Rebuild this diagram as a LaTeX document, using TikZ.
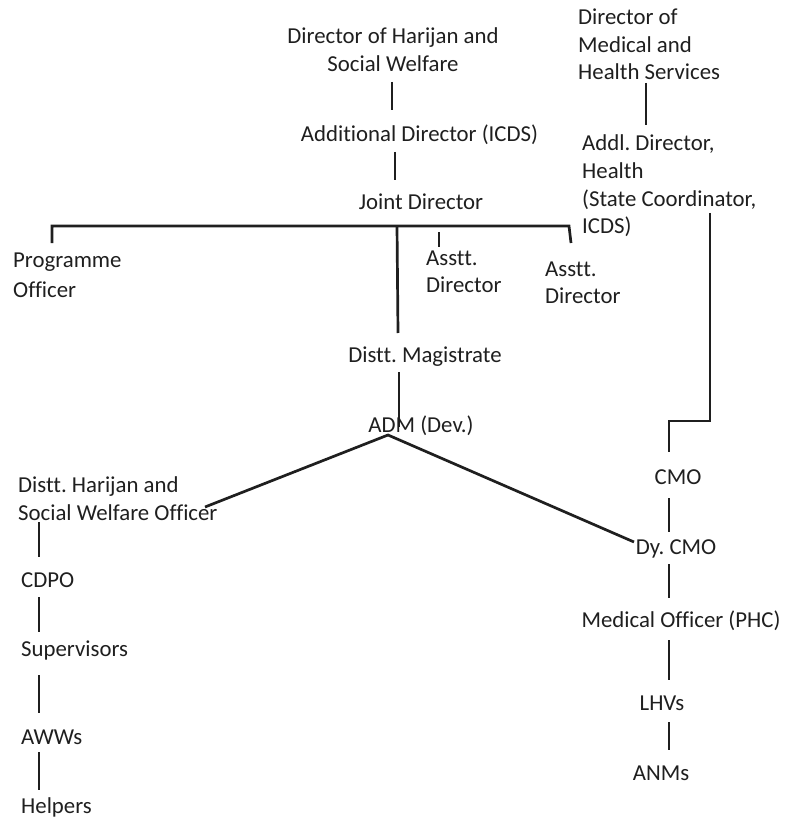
\documentclass[tikz,border=0pt]{standalone}
\usepackage{fontspec}
\setmainfont[Ligatures=NoCommon]{Carlito}
\frenchspacing
\begin{document}
\begin{tikzpicture}[x=1pt,y=-1pt,
  lbl/.style={inner sep=0pt,font=\fontsize{22.8}{27.5}\selectfont\frenchspacing,text=black!88},
  lc/.style={lbl,anchor=base,align=center},
  ll/.style={lbl,anchor=base west,align=left},
  conn/.style={line width=2.7pt,draw=black!88}]
\useasboundingbox (0,0) rectangle (792,818);
% left / centre column (multi-line nodes are placed at the baseline of their last line)
\node[lc,font=\fontsize{22.8}{28}\selectfont\frenchspacing] (hw) at (393,72) {Director of Harijan and\\Social Welfare};
\node[lc] (ad) at (419.5,142) {Additional Director (ICDS)};
\node[lc] (jd) at (421,210) {Joint Director};
\node[ll,font=\fontsize{22.8}{30}\selectfont\frenchspacing] (po) at (13,297) {Programme\\Officer};
\node[ll,font=\fontsize{22.8}{27}\selectfont\frenchspacing] (as1) at (426,292) {Asstt.\\Director};
\node[ll,font=\fontsize{22.8}{27}\selectfont\frenchspacing] (as2) at (545,303) {Asstt.\\Director};
\node[lc] (dm) at (425,362) {Distt. Magistrate};
\node[lc] (adm) at (421,432) {ADM (Dev.)};
\node[ll,font=\fontsize{22.8}{28}\selectfont\frenchspacing] (dh) at (18,520) {Distt. Harijan and\\Social Welfare Officer};
\node[ll] (cdpo) at (21,587) {CDPO};
\node[ll] (sup) at (21,656) {Supervisors};
\node[ll] (aww) at (21,744) {AWWs};
\node[ll] (help) at (21,813) {Helpers};
% right column
\node[ll] (dmh) at (578,80) {Director of\\Medical and\\Health Services};
\node[ll] (adh) at (582,233.5) {Addl. Director,\\Health\\(State Coordinator,\\ICDS)};
\node[lc] (cmo) at (678,484) {CMO};
\node[lc] (dcmo) at (676,554) {Dy. CMO};
\node[lc] (mo) at (681,627) {Medical Officer (PHC)};
\node[lc] (lhv) at (662,710) {LHVs};
\node[lc] (anm) at (661,780) {ANMs};
% connectors
\draw[conn] ([shift={(-1,10)}]hw.base) -- ([shift={(-27.5,-32)}]ad.base);
\draw[conn] ([shift={(-24.5,10)}]ad.base) -- ([shift={(-26,-30)}]jd.base);
\draw[conn] ([shift={(39,-54)}]po.base west) -- ++(0,-17) -- ++(517,0) -- ([shift={(26,-60)}]as2.base west);
\draw[conn] ([shift={(-24,16)}]jd.base) -- ([shift={(-27,-29)}]dm.base);
\draw[conn] ([shift={(13,-60)}]as1.base west) -- ([shift={(13,-45)}]as1.base west);
\draw[conn] ([shift={(-26,10)}]dm.base) -- ([shift={(-22,-5)}]adm.base);
\draw[conn] ([shift={(187,-13)}]dh.base west) -- ([shift={(-33,3)}]adm.base) -- ([shift={(-42,-12)}]dcmo.base);
\draw[conn] ([shift={(21,2)}]dh.base west) -- ([shift={(18,-30)}]cdpo.base west);
\draw[conn] ([shift={(18,10)}]cdpo.base west) -- ([shift={(18,-24)}]sup.base west);
\draw[conn] ([shift={(18,19)}]sup.base west) -- ([shift={(18,-31)}]aww.base west);
\draw[conn] ([shift={(18,8)}]aww.base west) -- ([shift={(18,-23)}]help.base west);
\draw[conn] ([shift={(68,3)}]dmh.base west) -- ([shift={(64,-108.5)}]adh.base west);
\draw[conn] ([shift={(128,-20.5)}]adh.base west) |- ([shift={(-9,-63)}]cmo.base) -- ([shift={(-9,-32)}]cmo.base);
\draw[conn] ([shift={(-9,14)}]cmo.base) -- ([shift={(-7,-22)}]dcmo.base);
\draw[conn] ([shift={(-7,10)}]dcmo.base) -- ([shift={(-12,-29)}]mo.base);
\draw[conn] ([shift={(-12,13)}]mo.base) -- ([shift={(7,-30)}]lhv.base);
\draw[conn] ([shift={(7,12)}]lhv.base) -- ([shift={(8,-30)}]anm.base);
\end{tikzpicture}
\end{document}
